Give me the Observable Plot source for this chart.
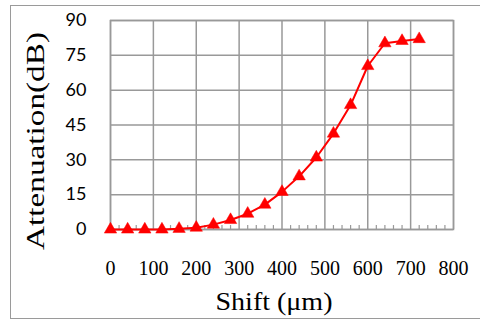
<!DOCTYPE html>
<html>
<head>
<meta charset="utf-8">
<script src="https://cdn.jsdelivr.net/npm/d3@7"></script>
<script src="https://cdn.jsdelivr.net/npm/@observablehq/plot@0.6"></script>
<style>
  html, body { margin: 0; padding: 0; background: #fff; overflow: hidden; }
  #wrap { position: relative; width: 480px; height: 322px; }
  #border { position: absolute; left: 10px; top: 5px; width: 480px; height: 314px; border: 1.5px solid #9a9a9a; box-sizing: border-box; }
  #chart { position: absolute; left: 0; top: 0; }
</style>
</head>
<body>
<div id="wrap"><div id="border"></div><div id="chart"></div></div>
<script>
const shift = [0, 40, 80, 120, 160, 200, 240, 280, 320, 360, 400, 440, 480, 520, 560, 600, 640, 680, 720];
const attenuation = [0, 0, 0, 0, 0.3, 0.8, 2.1, 4.1, 6.8, 10.7, 16.2, 22.9, 31, 41.3, 53.6, 70.4, 80.2, 81.2, 82];
const xTicks = [0, 100, 200, 300, 400, 500, 600, 700, 800];
const yTicks = [0, 15, 30, 45, 60, 75, 90];
const xMinor = d3.range(0, 801, 20).filter(v => v % 100 !== 0);
const xLabel = "Shift (μm)";
const yLabel = "Attenuation(dB)";

const data = shift.map((s, i) => ({shift: s, att: attenuation[i]}));
const grid = "#999999";
const serifFont = "Liberation Serif";
const sansFont = "Lato";

const chart = Plot.plot({
  width: 480,
  height: 322,
  marginLeft: 110,
  marginRight: 27,
  marginTop: 20,
  marginBottom: 93,
  x: {domain: [0, 800], axis: null},
  y: {domain: [0, 90], axis: null},
  marks: [
    Plot.gridX(xTicks, {stroke: grid, strokeOpacity: 1, strokeWidth: 1.5}),
    Plot.gridY(yTicks, {stroke: grid, strokeOpacity: 1, strokeWidth: 1.5}),
    Plot.ruleX(xMinor, {x: d => d, y1: 0, y2: 1.7, stroke: grid, strokeWidth: 1.2}),
    Plot.frame({stroke: grid, strokeWidth: 1.5}),
    Plot.text(xTicks, {x: d => d, frameAnchor: "bottom", lineAnchor: "middle", textAnchor: "middle", dy: 39, text: d => String(d), fontSize: 20, fontFamily: serifFont, fill: "#000"}),
    Plot.text(yTicks, {y: d => d, frameAnchor: "left", lineAnchor: "middle", textAnchor: "end", dx: -24, text: d => String(d), fontSize: 18, fontFamily: sansFont, fill: "#000"}),
    Plot.text([xLabel], {frameAnchor: "bottom", lineAnchor: "middle", textAnchor: "middle", dx: -8, dy: 72, fontSize: 26, fontFamily: serifFont, fill: "#000", className: "xlab"}),
    Plot.text([yLabel], {frameAnchor: "left", lineAnchor: "middle", textAnchor: "middle", dx: -75, dy: 16, rotate: -90, fontSize: 26, fontFamily: serifFont, fill: "#000", className: "ylab"}),
    Plot.line(data, {x: "shift", y: "att", stroke: "#ff0000", strokeWidth: 2}),
    Plot.dot(data, {x: "shift", y: "att", symbol: "triangle", r: 4.6, fill: "#ff0000", stroke: "#ff0000", strokeWidth: 0.5})
  ]
});
const svg = d3.select(chart);
svg.selectAll(".xlab text").attr("textLength", 117).attr("lengthAdjust", "spacingAndGlyphs");
svg.selectAll(".ylab text").attr("textLength", 218).attr("lengthAdjust", "spacingAndGlyphs");
document.getElementById("chart").appendChild(chart);
</script>
</body>
</html>
